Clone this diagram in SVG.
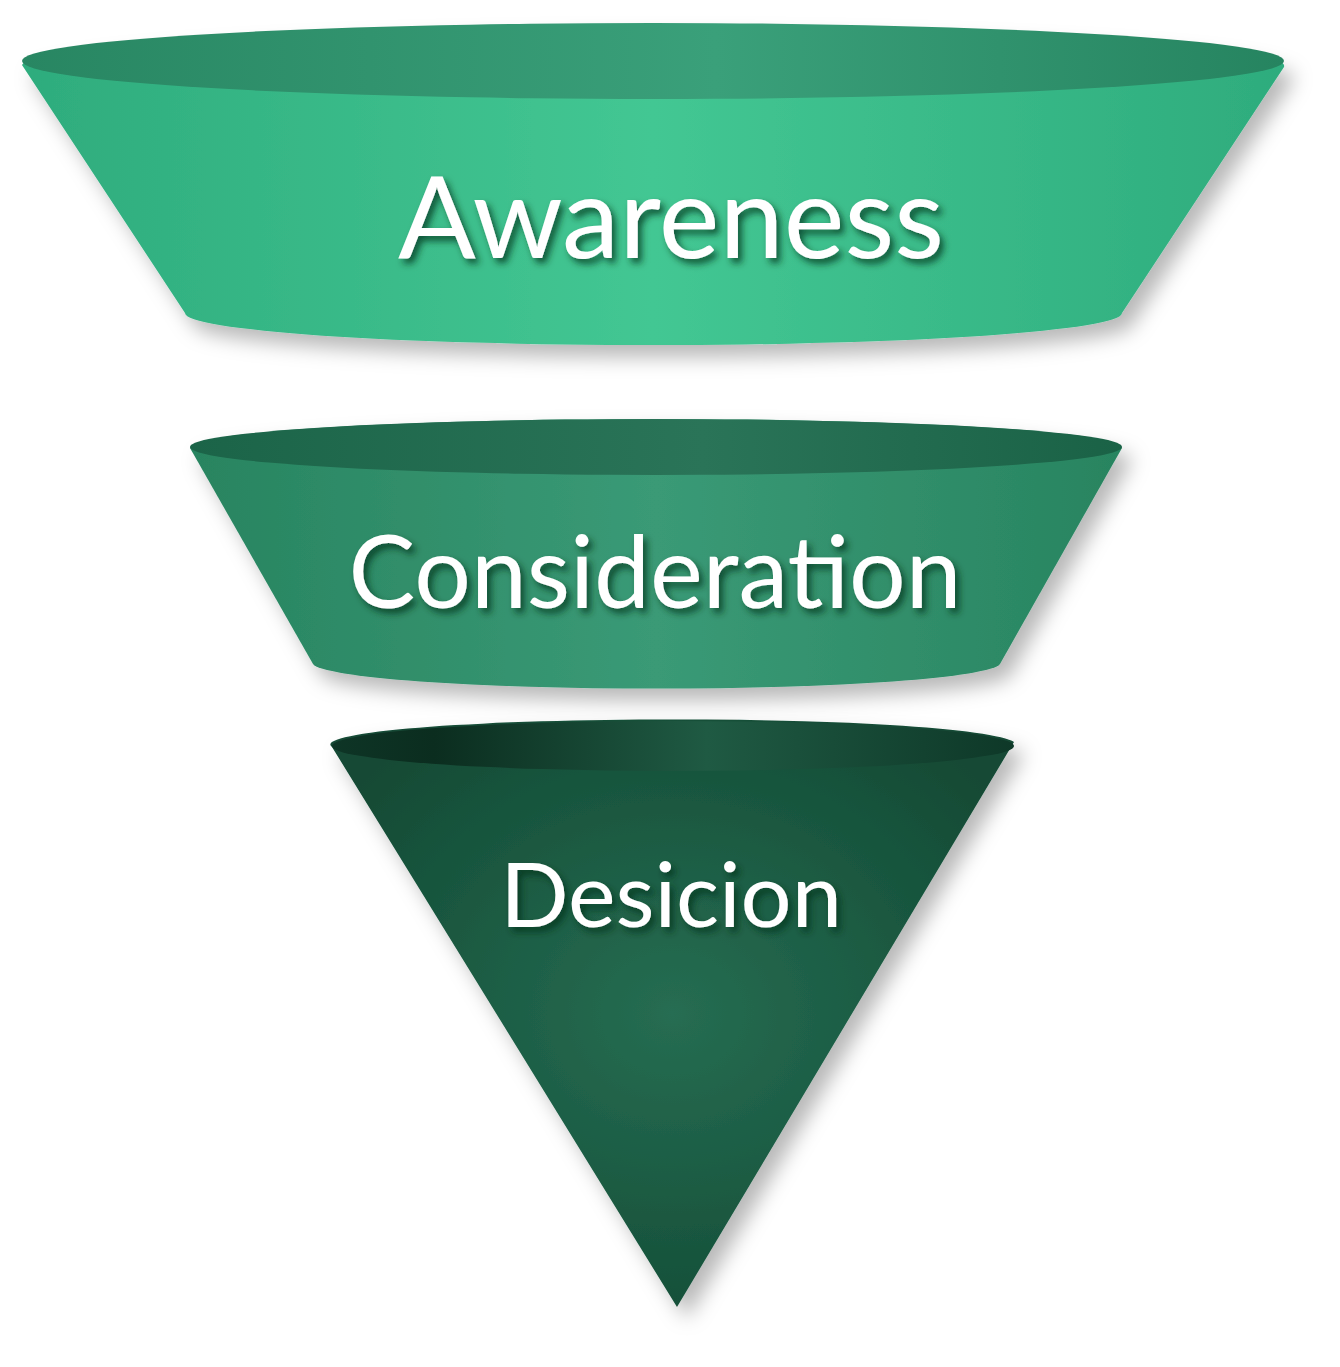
<svg xmlns="http://www.w3.org/2000/svg" width="1340" height="1367" viewBox="0 0 1340 1367">
<defs>
<filter id="shadow" x="-10%" y="-10%" width="125%" height="130%">
<feDropShadow dx="10" dy="12" stdDeviation="10" flood-color="#000" flood-opacity="0.28"/>
</filter>
<filter id="tshadow" x="-10%" y="-20%" width="120%" height="150%">
<feDropShadow dx="4" dy="5" stdDeviation="3.5" flood-color="#06301f" flood-opacity="0.75"/>
</filter>
<linearGradient id="body1" x1="0" y1="0" x2="1" y2="0">
<stop offset="0" stop-color="#2eac7d"/>
<stop offset="0.5" stop-color="#43c793"/>
<stop offset="1" stop-color="#2eac7d"/>
</linearGradient>
<linearGradient id="top1" x1="0" y1="0" x2="1" y2="0">
<stop offset="0" stop-color="#288662"/>
<stop offset="0.55" stop-color="#3aa07a"/>
<stop offset="1" stop-color="#268460"/>
</linearGradient>
<linearGradient id="body2" x1="0" y1="0" x2="1" y2="0">
<stop offset="0" stop-color="#288460"/>
<stop offset="0.5" stop-color="#3a9a76"/>
<stop offset="1" stop-color="#288460"/>
</linearGradient>
<linearGradient id="top2" x1="0" y1="0" x2="1" y2="0">
<stop offset="0" stop-color="#1b6448"/>
<stop offset="0.55" stop-color="#2a7458"/>
<stop offset="1" stop-color="#1a6246"/>
</linearGradient>
<radialGradient id="body3" cx="0.5" cy="0.5" r="0.6">
<stop offset="0" stop-color="#266d52"/>
<stop offset="1" stop-color="#124a34"/>
</radialGradient>
<linearGradient id="top3" x1="0" y1="0" x2="1" y2="0">
<stop offset="0" stop-color="#0e3526"/>
<stop offset="0.15" stop-color="#0b2d1f"/>
<stop offset="0.55" stop-color="#1f5a43"/>
<stop offset="1" stop-color="#0e3828"/>
</linearGradient>
<style>
.label { font-family: Lato, "Liberation Sans", sans-serif; fill: #ffffff; text-anchor: middle; filter: url(#tshadow); }
</style>
</defs>
<rect width="1340" height="1367" fill="#ffffff"/>
<g id="awareness">
<path d="M 22,65 L 185,313 A 468,32 0 0 0 1122,313 L 1284,67 A 631,40 0 0 0 22,65 Z" fill="url(#body1)" filter="url(#shadow)"/>
<ellipse cx="653" cy="61" rx="631" ry="38" fill="url(#top1)"/>
<text class="label" x="671" y="258" font-size="115">Awareness</text>
</g>
<g id="consideration">
<path d="M 190,448 L 313,664 A 344,26 0 0 0 1000,664 L 1122,448 A 466,29 0 0 0 190,448 Z" fill="url(#body2)" filter="url(#shadow)"/>
<ellipse cx="656" cy="447" rx="466" ry="28" fill="url(#top2)"/>
<text class="label" x="655" y="608" font-size="100">Consideration</text>
</g>
<g id="desicion">
<path d="M 332,747 L 677,1307 L 1014,742 A 341,25 0 0 0 332,747 Z" fill="url(#body3)" filter="url(#shadow)"/>
<ellipse cx="673" cy="746" rx="341" ry="25" fill="url(#top3)"/>
<text class="label" x="671" y="927" font-size="90">Desicion</text>
</g>
<g id="connectors"/>
</svg>
